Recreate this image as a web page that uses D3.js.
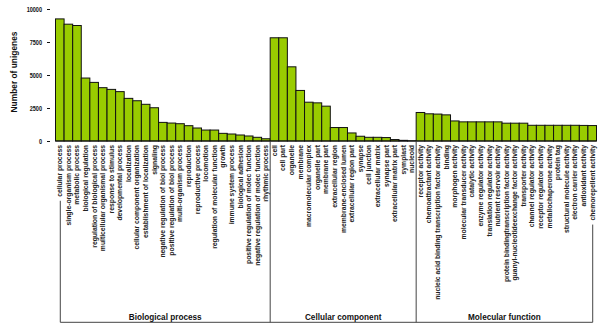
<!DOCTYPE html>
<html>
<head>
<meta charset="utf-8">
<script src="https://cdn.jsdelivr.net/npm/d3@7"></script>
<style>
  html, body { margin: 0; padding: 0; background: #fff; }
  svg { display: block; }
  text { font-family: Arial, "Liberation Sans", Helvetica, sans-serif; }
</style>
</head>
<body>
<svg id="chart" width="600" height="326"></svg>
<script>
// ---- data ----
const bpNames = ["cellular process","single-organism process","metabolic process","biological regulation","regulation of biological process","multicellular organismal process","response to stimulus","developmental process","localization","cellular component organization","establishment of localization","signaling","negative regulation of biol process","positive regulation of biol process","multi-organism process","reproduction","reproductive process","locomotion","regulation of molecular function","growth","immune system process","biological adhesion","positive regulation of molec function","negative regulation of molec function","rhythmic process"];
const bpValues = [9250, 8850, 8750, 4770, 4440, 4040, 3910, 3740, 3230, 3050, 2780, 2520, 1410, 1360, 1310, 1160, 985, 830, 830, 580, 530, 455, 380, 280, 170];

const ccNames = ["cell","cell part","organelle","membrane","macromolecular complex","organelle part","membrane part","extracellular region","membrane-enclosed lumen","extracellular region part","synapse","cell junction","extracellular matrix","synapse part","extracellular matrix part","symplast","nucleoid"];
const ccValues = [7820, 7820, 5620, 3830, 2940, 2890, 2640, 1020, 1020, 610, 360, 280, 280, 260, 110, 50, 20];

const mfNames = ["receptor activity","chemoattractant activity","nucleic acid binding transcription factor activity","binding","morphogen activity","molecular transducer activity","catalytic activity","enzyme regulator activity","translation regulator activity","nutrient reservoir activity","protein bindingtranscription factor activity","guanyl-nucleotideexchange factor activity","transporter activity","channel regulator activity","receptor regulator activity","metallochaperone activity","protein tag","structural molecule activity","electron carrier activity","antioxidant activity","chemorepellent activity"];
const mfValues = [2160, 2060, 2040, 1980, 1520, 1450, 1450, 1450, 1450, 1450, 1350, 1350, 1350, 1190, 1190, 1190, 1190, 1190, 1190, 1180, 1170];

const groupNames = ["Biological process", "Cellular component", "Molecular function"];
const yTicks = [0, 2500, 5000, 7500, 10000];
const yTitle = "Number of unigenes";

// ---- build ----
const groups = [
  {name: groupNames[0], names: bpNames, values: bpValues},
  {name: groupNames[1], names: ccNames, values: ccValues},
  {name: groupNames[2], names: mfNames, values: mfValues}
];
const rows = [];
groups.forEach((g, gi) => g.names.forEach((n, i) => rows.push({key: rows.length, name: n, value: g.values[i], group: gi})));

const svg = d3.select("#chart");
const x = d3.scaleBand().domain(rows.map(d => d.key)).range([55.5, 596.5]).paddingInner(0).paddingOuter(0);
const y = d3.scaleLinear().domain([0, 10000]).range([141, 9]);
const bw = x.bandwidth();
const baseY = y(0);
const bottomY = 322.3;

// bars
svg.append("g").selectAll("rect").data(rows).join("rect")
  .attr("x", d => x(d.key))
  .attr("y", d => y(d.value))
  .attr("width", bw)
  .attr("height", d => baseY - y(d.value))
  .attr("fill", "#99cc00")
  .attr("stroke", "#111")
  .attr("stroke-width", 1);

// baseline
svg.append("line")
  .attr("x1", x.range()[0]).attr("x2", x.range()[1])
  .attr("y1", baseY).attr("y2", baseY)
  .attr("stroke", "#111").attr("stroke-width", 1);

// y axis
const yAxis = svg.append("g").attr("transform", "translate(50,0)")
  .call(d3.axisLeft(y).tickValues(yTicks).tickSize(3).tickPadding(8).tickFormat(d3.format("d")));
yAxis.select(".domain").remove();
yAxis.selectAll(".tick line").attr("stroke", "#111");
yAxis.selectAll(".tick text")
  .attr("x", null)
  .attr("transform", "translate(-8,0) scale(0.85,1)")
  .attr("font-size", "6.5px").attr("font-weight", "bold").attr("fill", "#111");

// y title
svg.append("text")
  .attr("transform", "translate(16.5,72) rotate(-90)")
  .attr("text-anchor", "middle")
  .attr("font-size", "8.4px").attr("font-weight", "bold").attr("fill", "#111")
  .text(yTitle);

// category labels
const labels = svg.append("g").selectAll("text").data(rows).join("text")
  .attr("transform", d => `translate(${x(d.key) + bw / 2 + 2.4},145) rotate(-90)`)
  .attr("text-anchor", "end")
  .attr("font-size", "6.8px")
  .attr("font-weight", "bold")
  .attr("fill", "#222")
  .text(d => d.name);

// group brackets
const firstC = x(0) + bw / 2 + 0.5;
const lastC = x(rows.length - 1) + bw / 2 + 0.5;
const lenFirst = labels.filter(d => d.key === 0).node().getComputedTextLength();
const lenLast = labels.filter(d => d.key === rows.length - 1).node().getComputedTextLength();
const br = svg.append("g").attr("stroke", "#444").attr("stroke-width", 1);
br.append("line").attr("x1", firstC).attr("x2", firstC).attr("y1", 145 + lenFirst + 4).attr("y2", bottomY);
br.append("line").attr("x1", lastC).attr("x2", lastC).attr("y1", 145 + lenLast + 4).attr("y2", bottomY);
br.append("line").attr("x1", firstC).attr("x2", lastC).attr("y1", bottomY).attr("y2", bottomY);

// dividers between groups
const bounds = [firstC];
let idx = 0;
groups.forEach((g, gi) => {
  idx += g.names.length;
  if (gi < groups.length - 1) bounds.push(x(idx));
});
bounds.push(lastC);
bounds.slice(1, -1).forEach(bx => {
  br.append("line").attr("x1", bx).attr("x2", bx).attr("y1", baseY).attr("y2", bottomY);
});

// group titles
groups.forEach((g, gi) => {
  svg.append("text")
    .attr("x", (bounds[gi] + bounds[gi + 1]) / 2)
    .attr("y", 320)
    .attr("text-anchor", "middle")
    .attr("font-size", "8.2px").attr("font-weight", "bold").attr("fill", "#111")
    .text(g.name);
});
</script>
</body>
</html>
